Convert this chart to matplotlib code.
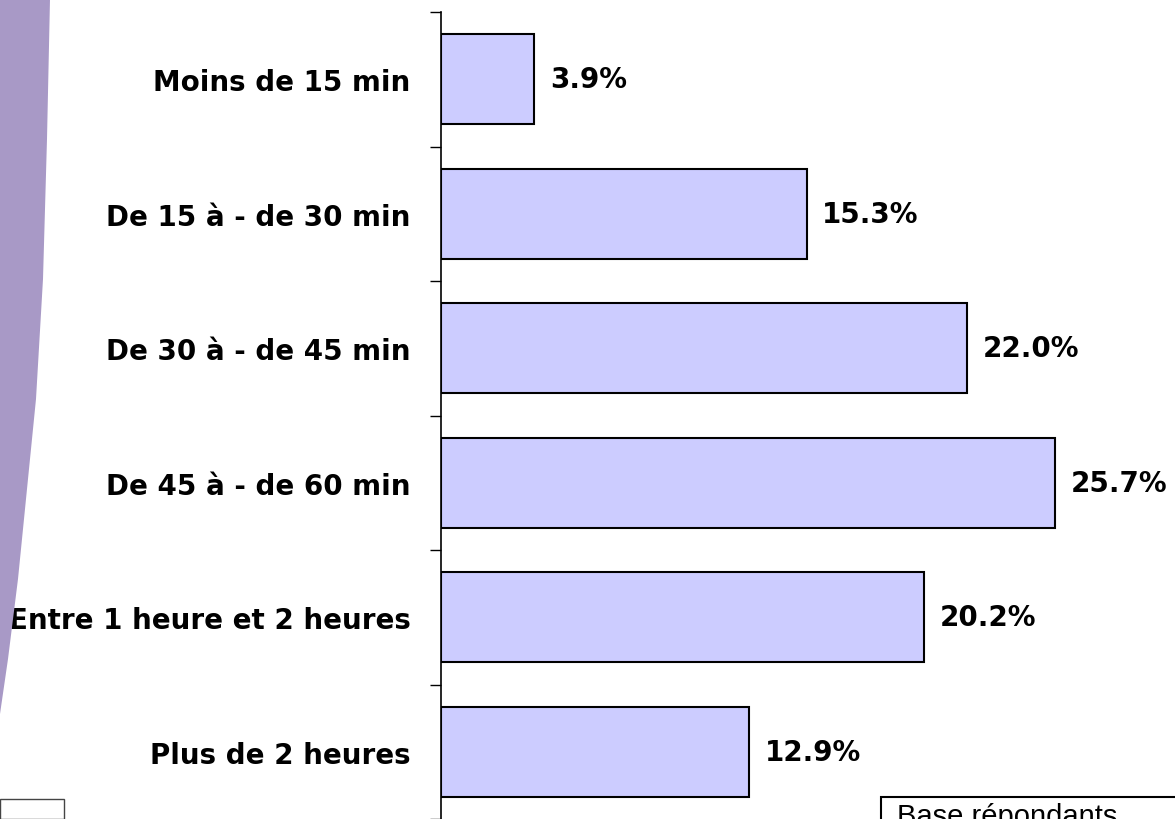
import matplotlib
matplotlib.use('Agg')
import matplotlib.pyplot as plt
from matplotlib.patches import Polygon, Rectangle

# Temps de trajet - répartition des répondants
categories = ['Moins de 15 min', 'De 15 à - de 30 min', 'De 30 à - de 45 min',
              'De 45 à - de 60 min', 'Entre 1 heure et 2 heures', 'Plus de 2 heures']
values = [3.9, 15.3, 22.0, 25.7, 20.2, 12.9]

W, H = 1175, 820
fig = plt.figure(figsize=(W / 100, H / 100), dpi=100)
fig.patch.set_facecolor('white')

# decorative purple swoosh on the left edge (figure pixel coords)
swoosh = [(0, 0), (50, 0), (47, 140), (43, 280), (36, 400), (28, 480),
          (18, 580), (8, 660), (0, 715)]
fig.patches.append(Polygon([(x / W, 1 - y / H) for x, y in swoosh],
                           closed=True, transform=fig.transFigure,
                           facecolor='#A899C6', edgecolor='none', zorder=0))

ax = fig.add_axes([441 / W, 0, 1 - 441 / W, 1 - 13 / H])
pos = list(range(len(categories)))
ax.barh(pos, values, height=0.67, color='#CCCCFF', edgecolor='black', linewidth=1.5)
ax.set_ylim(5.5, -0.5)
ax.set_xlim(0, (W - 441) / 23.9)

for i, v in enumerate(values):
    ax.text(v + 0.65, i, f'{v:.1f}%', va='center', ha='left',
            fontsize=20, fontweight='bold', color='black')

ax.set_yticks(pos)
ax.set_yticklabels(categories, fontsize=20, fontweight='bold')
ax.tick_params(axis='y', which='major', length=0, pad=22)
ax.set_yticks([p - 0.5 for p in pos] + [5.5], minor=True)
ax.tick_params(axis='y', which='minor', length=8, width=1, direction='out')
ax.set_xticks([])
for s in ['top', 'right', 'bottom']:
    ax.spines[s].set_visible(False)
ax.spines['left'].set_linewidth(1.2)
ax.patch.set_alpha(0)

# boxes cut by the bottom edge
fig.patches.append(Rectangle((0, 0), 64 / W, 20 / H, transform=fig.transFigure,
                             facecolor='white', edgecolor='#444444', linewidth=1))
fig.patches.append(Rectangle((881 / W, -0.05), 0.3, 0.05 + 22 / H,
                             transform=fig.transFigure, facecolor='white',
                             edgecolor='black', linewidth=1.5))
fig.text(897 / W, 1 - 803 / H, 'Base répondants', fontsize=21,
         family='Liberation Sans', va='top', ha='left')

fig.savefig('out.png', dpi=100)
